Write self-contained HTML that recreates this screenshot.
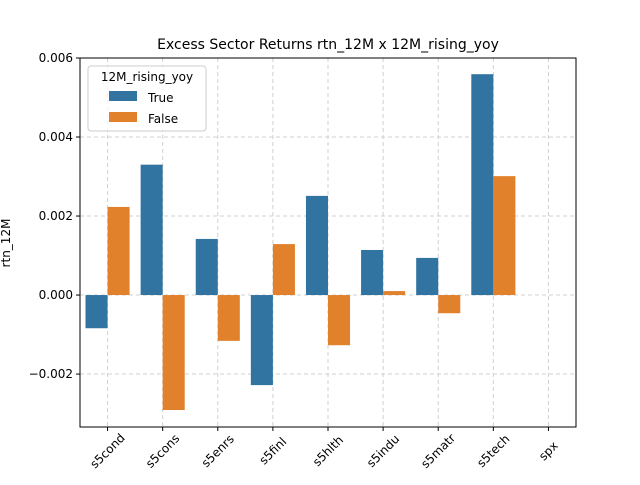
<!DOCTYPE html>
<html><head><meta charset="utf-8"><style>
body{margin:0;background:#fff;font-family:"Liberation Sans","DejaVu Sans",sans-serif;}
svg text{font-family:"DejaVu Sans","Liberation Sans",sans-serif;}
</style></head><body>
<svg id="chart" width="640" height="480" xmlns="http://www.w3.org/2000/svg">
<rect width="640" height="480" fill="#fff"/>
<text x="328" y="49" font-size="14" text-anchor="middle">Excess Sector Returns rtn_12M x 12M_rising_yoy</text>
<text transform="translate(10,243) rotate(-90)" font-size="12" text-anchor="middle">rtn_12M</text>
<g id="grid"></g><g id="bars"></g><g id="axes"></g>
<g>
<rect x="88" y="66" width="118" height="65" rx="3" fill="#fff" fill-opacity="0.8" stroke="#ccc"/>
<text x="147" y="81" font-size="12" text-anchor="middle">12M_rising_yoy</text>
<g><rect x="109" y="91" width="28" height="10" fill="#3274a1"/><text x="148" y="102" font-size="12">True</text></g>
<g><rect x="109" y="112" width="28" height="10" fill="#e1812c"/><text x="148" y="123" font-size="12">False</text></g>
</g>
</svg>
<script>
const categories=["s5cond","s5cons","s5enrs","s5finl","s5hlth","s5indu","s5matr","s5tech","spx"];
const trueValues=[-0.00084,0.0033,0.00142,-0.00228,0.00251,0.00114,0.00094,0.00559,null];
const falseValues=[0.00223,-0.00291,-0.00116,0.00129,-0.00127,0.0001,-0.00046,0.00301,null];
const yTicks=[-0.002,0,0.002,0.004,0.006];
const yTickLabels=["−0.002","0.000","0.002","0.004","0.006"];
const L=80,R=576,T=58,B=427,yMin=-0.00334,yMax=0.006;
const ns="http://www.w3.org/2000/svg";
function y(v){return B-(v-yMin)/(yMax-yMin)*(B-T);}
const bw=(R-L)/categories.length;
function x(i){return L+bw*(i+0.5);}
function mk(t,a,p){const e=document.createElementNS(ns,t);for(const k in a)e.setAttribute(k,a[k]);p.appendChild(e);return e;}
const grid=document.getElementById('grid'),bars=document.getElementById('bars'),axes=document.getElementById('axes');
yTicks.forEach((v,i)=>{
 const g=mk('line',{x1:L,x2:R,y1:y(v),y2:y(v),stroke:'#d0d0d0','stroke-dasharray':'4,3'},grid);
 
 
 const tk=mk('line',{x1:L-4,x2:L,y1:y(v),y2:y(v),stroke:'#000'},axes);
 
 
 const t=mk('text',{x:L-7,y:y(v)+4,'font-size':'12','text-anchor':'end'},axes);t.textContent=yTickLabels[i];
 
 
});
categories.forEach((c,i)=>{
 const g=mk('line',{x1:x(i),x2:x(i),y1:T,y2:B,stroke:'#d0d0d0','stroke-dasharray':'4,3'},grid);
 
 
 const w=bw*0.4;
 [[trueValues[i],'#3274a1',-1,'true'],[falseValues[i],'#e1812c',0,'false']].forEach(([v,col,off,s])=>{
  if(v===null)return;
  const r=mk('rect',{x:x(i)+off*w,y:Math.min(y(v),y(0)),width:w,height:Math.abs(y(v)-y(0)),fill:col},bars);
  
  
 });
 const tk=mk('line',{x1:x(i),x2:x(i),y1:B,y2:B+4,stroke:'#000'},axes);
 
 
 const t=mk('text',{'font-size':'12','text-anchor':'middle',dy:'4',transform:`translate(${x(i)},${B+24}) rotate(-45)`},axes);t.textContent=c;
 
 
});
const fr=mk('rect',{x:L,y:T,width:R-L,height:B-T,fill:'none',stroke:'#000','stroke-width':'1'},axes);


</script>
</body></html>
